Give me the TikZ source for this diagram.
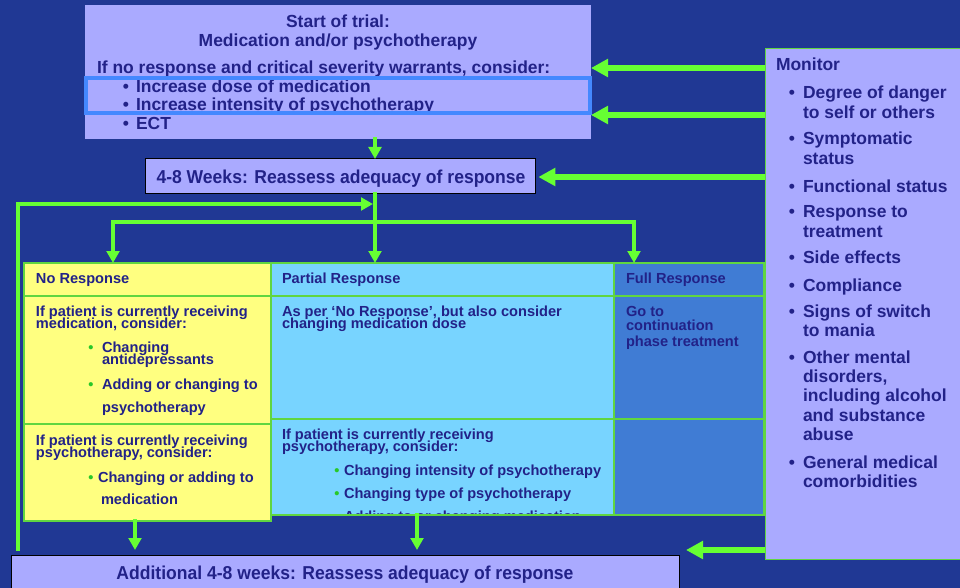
\documentclass[tikz,border=0pt]{standalone}
\usepackage{fontspec}
\setmainfont{Liberation Sans}
\newfontfamily\narrowsans[FakeStretch=0.94]{Liberation Sans}
\usetikzlibrary{arrows.meta,fit}

% stacked lines whose reference point is the first baseline
\newcommand\stackleft[1]{\vtop{\lineskiplimit=-40pt\lineskip=0pt\halign{##\hfil\cr#1\crcr}}}
\newcommand\stackmid[1]{\vtop{\lineskiplimit=-40pt\lineskip=0pt\halign{\hfil##\hfil\cr#1\crcr}}}

\definecolor{slidebg}{RGB}{32,56,148}
\definecolor{lavender}{RGB}{170,170,255}
\definecolor{ink}{RGB}{34,34,136}
\definecolor{paleyellow}{RGB}{255,255,128}
\definecolor{skyblue}{RGB}{120,212,255}
\definecolor{midblue}{RGB}{64,124,212}
\definecolor{flowgreen}{RGB}{102,255,51}
\definecolor{gridgreen}{RGB}{96,214,64}
\definecolor{hlblue}{RGB}{68,136,255}
\definecolor{bulletgreen}{RGB}{40,200,40}

\begin{document}
\begin{tikzpicture}[x=0.75pt,y=-0.75pt,
  every node/.style={inner sep=0pt,outer sep=0pt,text=ink},
  listtxt/.style={font=\fontsize{13.1}{14}\selectfont\bfseries,anchor=base west},
  montxt/.style={font=\fontsize{13.1}{14.5}\selectfont\bfseries,anchor=base west},
  smalltxt/.style={font=\fontsize{10.95}{9.4}\selectfont\bfseries,anchor=base west},
  narrowtxt/.style={font=\narrowsans\fontsize{14}{16}\selectfont\bfseries},
  bigdot/.style={font=\fontsize{13.1}{14}\selectfont\bfseries,anchor=base},
  greendot/.style={font=\fontsize{10.95}{12}\selectfont\bfseries,text=bulletgreen,anchor=base},
  box/.style={inner sep=0pt,outer sep=0pt},
  gridline/.style={draw=gridgreen,line width=1.5pt},
  flowline/.style={draw=flowgreen,line width=3pt,line cap=rect},
  thinarrow/.style={flowline,-{Triangle[length=9pt,width=9.5pt]}},
  bigarrow/.style={draw=flowgreen,line width=4.5pt,-{Triangle[length=12.75pt,width=13pt]}}
]
% slide background
\fill[slidebg] (0,0) rectangle (960,588);
\useasboundingbox (0,0) rectangle (960,588);

% ---------- start of trial ----------
\node[box,fit={(85,5)(591,139)},fill=lavender] (start) {};
\node[font=\fontsize{13.1}{14.25}\selectfont\bfseries,anchor=base] (starthead) at (338,28)
  {\stackmid{Start of trial:\cr Medication and/or psychotherapy}};
\node[listtxt] (consider) at (97,74)
  {If no response and critical severity warrants, consider:};
\node[bigdot] (d1) at (126,93) {•};
\node[listtxt] (opt1) at (136,93) {Increase dose of medication};
\node[bigdot] (d2) at (126,111) {•};
\node[listtxt] (opt2) at (136,111) {Increase intensity of psychotherapy};
\node[bigdot] (d3) at (126,130) {•};
\node[listtxt] (opt3) at (136,130) {ECT};
\node[box,fit={(86,78)(590,113)},draw=hlblue,line width=3pt] (highlight) {};

% ---------- first reassessment ----------
\node[box,fit={(145,159)(535,194)},fill=lavender,draw=black,line width=0.75pt] (reassess) {};
\node[narrowtxt,anchor=base] (reassesstxt) at (341,184)
  {4-8 Weeks: Reassess adequacy of response};

% ---------- monitor panel ----------
\node[box,fit={(765,49)(964,559)},fill=lavender,draw=gridgreen,line width=0.75pt] (monitor) {};
\node[listtxt] (montitle) at (776,71) {Monitor};
\foreach \yy/\txt [count=\k] in {
  99/{Degree of danger\cr to self or others},
  145/{Symptomatic\cr status},
  192/{Functional status},
  218/{Response to\cr treatment},
  263/{Side effects},
  291/{Compliance},
  317/{Signs of switch\cr to mania},
  363/{Other mental\cr disorders,\cr including alcohol\cr and substance\cr abuse},
  468/{General medical\cr comorbidities}}{
  \node[bigdot] (mdot\k) at (792,\yy) {•};
  \node[montxt] (mitem\k) at (803,\yy) {\stackleft{\txt}};
}

% ---------- response table ----------
\node[box,fit={(614,263)(764,515)},fill=midblue,draw=gridgreen,line width=1.5pt] (fullcol) {};
\node[box,fit={(271,263)(614,515)},fill=skyblue,draw=gridgreen,line width=1.5pt] (partcol) {};
\draw[gridline] (partcol.west |- 0,296) -- (fullcol.east |- 0,296);
\draw[gridline] (partcol.west |- 0,419) -- (fullcol.east |- 0,419);
\draw[gridline] (fullcol.north west) -- (fullcol.south west);

\node[smalltxt] (parthead) at (282,283) {Partial Response};
\node[smalltxt] (partrow1) at (282,316)
  {\stackleft{As per ‘No Response’, but also consider\cr changing medication dose}};
\node[smalltxt] (partrow2) at (282,439)
  {\stackleft{If patient is currently receiving\cr psychotherapy, consider:}};
\begin{scope}
  \clip (271,419) rectangle (614,514);
  \node[greendot] (pdot1) at (337,475) {•};
  \node[smalltxt] (popt1) at (344,475) {Changing intensity of psychotherapy};
  \node[greendot] (pdot2) at (337,498) {•};
  \node[smalltxt] (popt2) at (344,498) {Changing type of psychotherapy};
  \node[greendot] (pdot3) at (337,521) {•};
  \node[smalltxt] (popt3) at (344,521) {Adding to or changing medication};
\end{scope}
\draw[gridline] (partcol.south west) -- (fullcol.south east);

\node[smalltxt] (fullhead) at (626,283) {Full Response};
\node[smalltxt] (full1) at (626,316) {Go to};
\node[smalltxt] (full2) at (626,330) {continuation};
\node[smalltxt] (full3) at (626,346) {phase treatment};

\node[box,fit={(24,263)(271,521)},fill=paleyellow,draw=gridgreen,line width=1.5pt] (nocol) {};
\draw[gridline] (nocol.west |- 0,296) -- (nocol.east |- 0,296);
\draw[gridline] (nocol.west |- 0,424) -- (nocol.east |- 0,424);
\node[smalltxt] (nohead) at (36,283) {No Response};
\node[smalltxt] (norow1) at (36,316)
  {\stackleft{If patient is currently receiving\cr medication, consider:}};
\node[greendot] (ndot1) at (91,352) {•};
\node[smalltxt] (nopt1) at (102,352) {\stackleft{Changing\cr antidepressants}};
\node[greendot] (ndot2) at (91,389) {•};
\node[smalltxt] (nopt2) at (102,389) {Adding or changing to};
\node[smalltxt] (nopt2b) at (102,412) {psychotherapy};
\node[smalltxt] (norow2) at (36,445)
  {\stackleft{If patient is currently receiving\cr psychotherapy, consider:}};
\node[greendot] (ndot3) at (91,482) {•};
\node[smalltxt] (nopt3) at (98,482) {Changing or adding to};
\node[smalltxt] (nopt3b) at (101,504) {medication};

% ---------- second reassessment ----------
\node[box,fit={(11,555)(679,592)},fill=lavender,draw=black,line width=0.75pt] (again) {};
\node[narrowtxt,anchor=base] (againtxt) at (345,579)
  {Additional 4-8 weeks: Reassess adequacy of response};

% ---------- flow connectors ----------
\coordinate (split) at (375,222);
\coordinate (splitL) at (113,222);
\coordinate (splitR) at (634,222);
\coordinate (loopfoot) at (18,549);
\coordinate (loopcorner) at (18,204);
\coordinate (loopend) at (373,204);
\coordinate (dropL) at (135,550);
\coordinate (dropM) at (417,550);

\draw[thinarrow] (start.south -| split) -- (reassess.north -| split);
\draw[thinarrow] (reassess.south -| split) -- (partcol.north -| split);
\draw[flowline] (splitL) -- (splitR);
\draw[thinarrow] (splitL) -- (nocol.north -| splitL);
\draw[thinarrow] (splitR) -- (fullcol.north -| splitR);
\draw[thinarrow] (loopfoot) -- (loopcorner) -- (loopend);
\draw[thinarrow] (nocol.south -| dropL) -- (dropL);
\draw[thinarrow] (partcol.south -| dropM) -- (dropM);

% monitoring feeds back into every decision point
\coordinate (mon1) at (765,68);
\coordinate (mon2) at (765,115);
\coordinate (mon3) at (765,177);
\coordinate (mon4) at (765,550);
\coordinate (gap4) at (686,550);
\draw[bigarrow] (mon1) -- (start.east |- mon1);
\draw[bigarrow] (mon2) -- (start.east |- mon2);
\draw[bigarrow] (mon3) -- ([xshift=2.5pt]reassess.east |- mon3);
\draw[bigarrow] (mon4) -- (gap4);
\end{tikzpicture}
\end{document}
